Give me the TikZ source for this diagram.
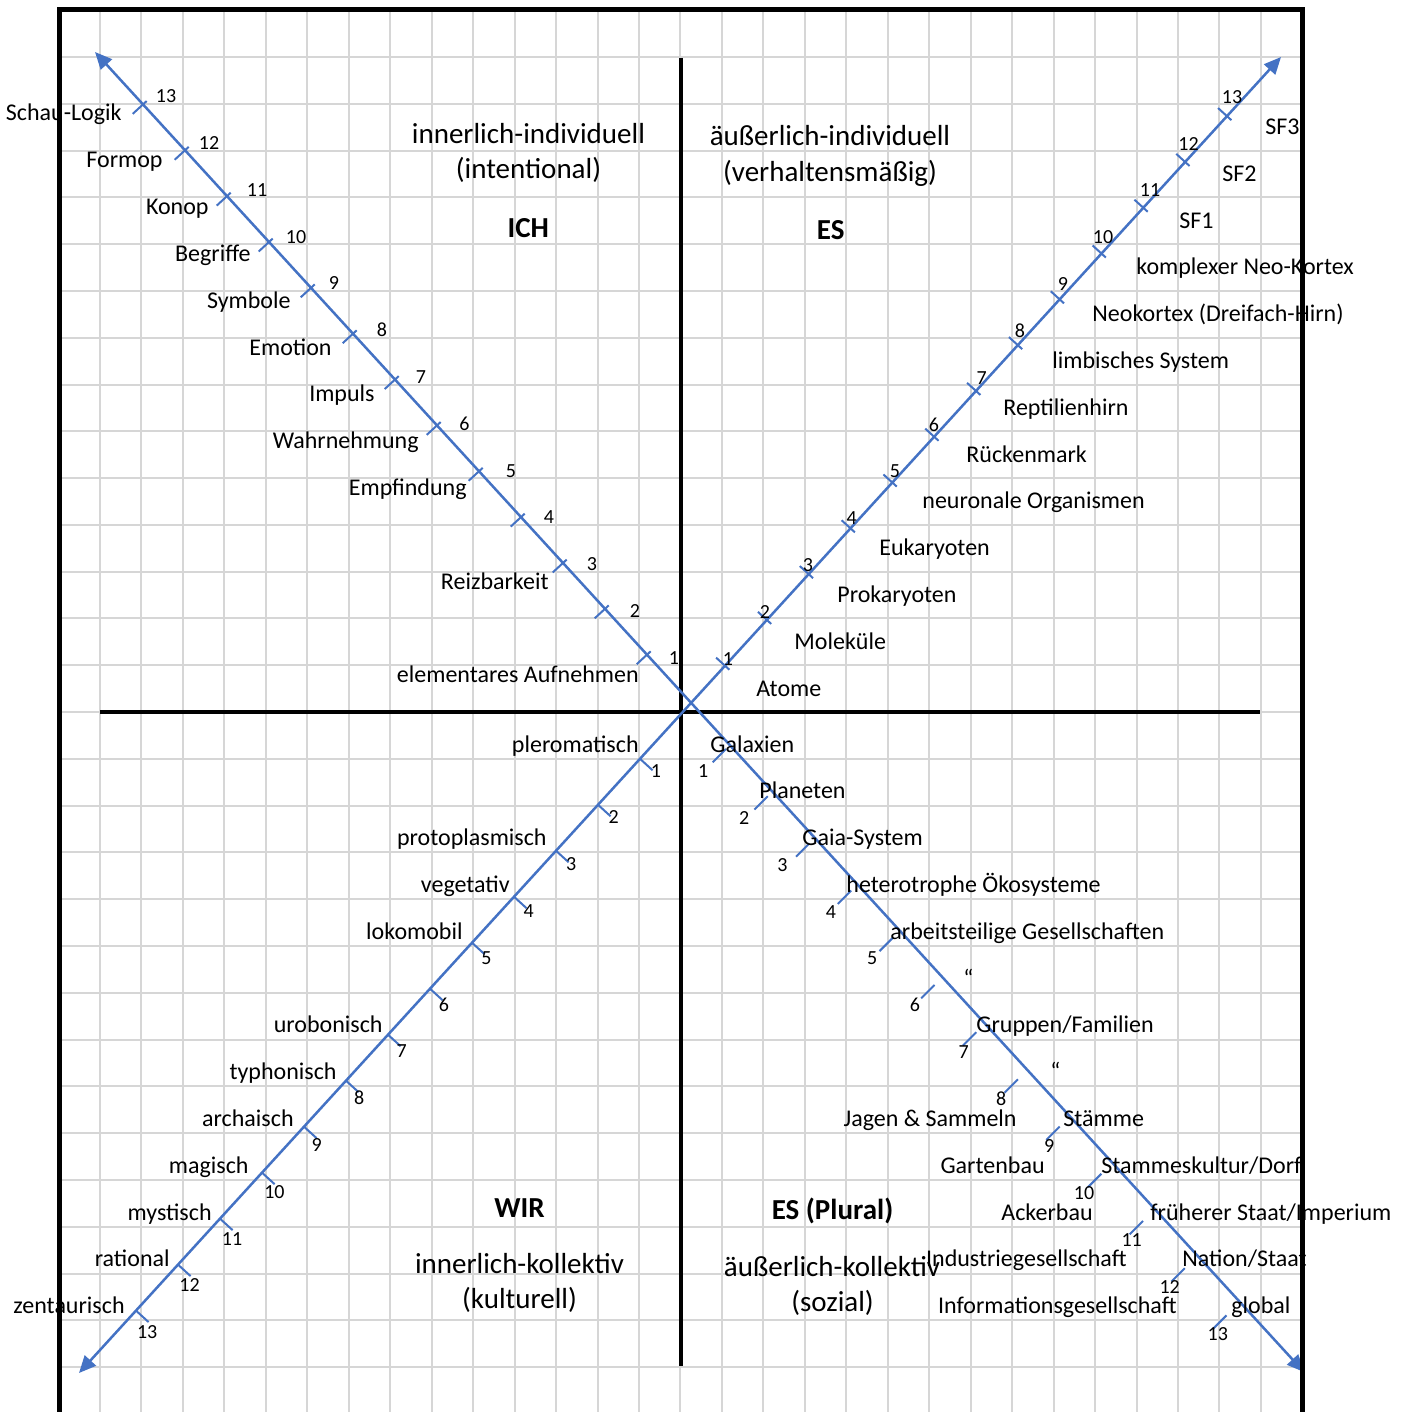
\documentclass[tikz,border=0pt]{standalone}
\usepackage{fontspec}
\setmainfont{Carlito}
\usetikzlibrary{arrows.meta}
\definecolor{gridgray}{RGB}{214,214,214}
\definecolor{scaleblue}{RGB}{68,114,196}
\begin{document}
\begin{tikzpicture}[x=0.5pt,y=-0.5pt,
  gridline/.style={draw=gridgray,line width=1pt},
  frameline/.style={draw=black,line width=2.5pt,line join=miter},
  quadline/.style={draw=black,line width=2.3pt},
  scaleaxis/.style={draw=scaleblue,line width=1.25pt,
    {Triangle[length=8.5pt,width=7.5pt]}-{Triangle[length=8.5pt,width=7.5pt]}},
  tickmark/.style={draw=scaleblue,line width=1pt},
  lbl/.style={inner sep=0pt,font=\fontsize{12pt}{14pt}\selectfont},
  num/.style={inner sep=0pt,font=\fontsize{10pt}{12pt}\selectfont},
  ttl/.style={inner sep=0pt,font=\fontsize{14.5pt}{17pt}\selectfont},
  ttlb/.style={inner sep=0pt,font=\fontsize{14.5pt}{17pt}\selectfont\bfseries},
]
\useasboundingbox (0,0) rectangle (1410,1412);
\fill[white] (0,0) rectangle (1410,1412);

% squared paper
\foreach \i in {0,...,28}
  \draw[gridline] ({100+41.46*\i},10) -- ({100+41.46*\i},1412);
\foreach \j in {0,...,28}
  \draw[gridline] (60,{57+46.79*\j}) -- (1302,{57+46.79*\j});

% quadrant dividers
\coordinate (vtop) at (681,58);
\coordinate (vbot) at (681,1366);
\coordinate (hleft) at (100,712);
\coordinate (hright) at (1260,712);
\draw[quadline] (vtop) -- (vbot);
\draw[quadline] (hleft) -- (hright);

% the two diagonal scales
\coordinate (nwtip) at (95,52);
\coordinate (setip) at (1304,1372);
\coordinate (swtip) at (79,1373);
\coordinate (netip) at (1281,57);
\draw[scaleaxis] (nwtip) -- (setip);
\draw[scaleaxis] (swtip) -- (netip);

% tick marks, upper left (crossing the line)
\foreach \k in {1,...,13} {
  \pgfmathsetmacro\tx{647-42*(\k-1)}
  \pgfmathsetmacro\ty{52+1.0918*(\tx-95)}
  \draw[tickmark] ({\tx+3.7},{\ty-3.4}) -- ({\tx-10.3},{\ty+9.5});
}
% tick marks, upper right
\foreach \k in {1,...,13} {
  \pgfmathsetmacro\tx{725+41.83*(\k-1)}
  \pgfmathsetmacro\ty{1373-1.09484*(\tx-79)}
  \draw[tickmark] ({\tx+4.4},{\ty+4.0}) -- ({\tx-8.9},{\ty-8.1});
}
% tick marks, lower left (one-sided)
\foreach \k in {1,...,13} {
  \pgfmathsetmacro\tx{640-42*(\k-1)}
  \pgfmathsetmacro\ty{1373-1.09484*(\tx-79)}
  \draw[tickmark] (\tx,\ty) -- ({\tx+12.6},{\ty+11.5});
}
% tick marks, lower right (set off below the line)
\foreach \k in {1,...,13} {
  \pgfmathsetmacro\tx{726+41.7*(\k-1)}
  \pgfmathsetmacro\ty{749+47.2*(\k-1)}
  \draw[tickmark] (\tx,\ty) -- ({\tx-13.3},{\ty+13.3});
}

% step numbers
\foreach \k/\xx in {13/166,12/209,11/257,10/296,9/334,8/382,7/421,6/464.5,5/511,4/549,3/592,2/635,1/674}
  \node[num,anchor=base] (nwn\k) at (\xx,{102.7+46.8*(13-\k)}) {\k};
\foreach \k/\xx in {1/728,2/765,3/808,4/851.7,5/895,6/934,7/981.7,8/1020,9/1063,10/1103,11/1150,12/1188.5,13/1232}
  \node[num,anchor=base] (nen\k) at (\xx,{665-46.8*(\k-1)}) {\k};
\foreach \k in {1,...,13}
  \node[num,anchor=base] (swn\k) at ({656-42.4*(\k-1)},{777+46.8*(\k-1)}) {\k};
\foreach \k/\xx in {1/703.3,2/744.2,3/782.5,4/831,5/872.3,6/915,7/963.7,8/1001.3,9/1049.3,10/1084,11/1131.7,12/1169.7,13/1217.8}
  \node[num,anchor=base] (sen\k) at (\xx,{777.3+46.9*(\k-1)}) {\k};

% upper left: intentional stages
\foreach \k/\xx/\txt in {13/122/Schau-Logik,12/163/Formop,11/209/Konop,10/251/Begriffe,9/291/Symbole,8/332/Emotion,7/375/Impuls,6/419/Wahrnehmung,5/467/Empfindung,3/549/Reizbarkeit,1/639/elementares Aufnehmen}
  \node[lbl,anchor=base east] (nwl\k) at (\xx,{121+46.8*(13-\k)}) {\txt};

% upper right: behavioural stages
\foreach \k/\xx/\txt in {1/756/Atome,2/794/Moleküle,3/837/Prokaryoten,4/879/Eukaryoten,5/922/neuronale Organismen,6/966/Rückenmark,7/1003/Reptilienhirn,8/1052/limbisches System,9/1092/Neokortex (Dreifach-Hirn),10/1136/komplexer Neo-Kortex,11/1179/SF1,12/1222/SF2,13/1265/SF3}
  \node[lbl,anchor=base west] (nel\k) at (\xx,{696-46.8*(\k-1)}) {\txt};

% lower left: cultural stages
\foreach \k/\xx/\txt in {1/639/pleromatisch,3/547/protoplasmisch,4/510/vegetativ,5/463/lokomobil,7/383/urobonisch,8/337/typhonisch,9/294/archaisch,10/249/magisch,11/212/mystisch,12/170/rational,13/125/zentaurisch}
  \node[lbl,anchor=base east] (swl\k) at (\xx,{752+46.8*(\k-1)}) {\txt};

% lower right: social stages
\node[lbl,anchor=base west] (sel1) at (710,752) {Galaxien};
\node[lbl,anchor=base west] (sel2) at (759,798.8) {Planeten};
\node[lbl,anchor=base west] (sel3) at (802,845.6) {Gaia-System};
\node[lbl,anchor=base west] (sel4) at (846,892.4) {heterotrophe Ökosysteme};
\node[lbl,anchor=base west] (sel5) at (890,939.2) {arbeitsteilige Gesellschaften};
\node[lbl,anchor=base west] (sel6) at (963,986) {“};
\node[lbl,anchor=base west] (sel7) at (976,1032.8) {Gruppen/Familien};
\node[lbl,anchor=base west] (sel8) at (1050,1079.6) {“};
\node[lbl,anchor=base west] (sel9) at (1063,1126.4) {Stämme};
\node[lbl,anchor=base west] (sel10) at (1101,1173.2) {Stammeskultur/Dorf};
\node[lbl,anchor=base west] (sel11) at (1150,1220) {früherer Staat/Imperium};
\node[lbl,anchor=base west] (sel12) at (1182,1266.8) {Nation/Staat};
\node[lbl,anchor=base west] (sel13) at (1231,1313.6) {global};
\node[lbl,anchor=base east] (sea9) at (1017,1126.4) {Jagen \& Sammeln};
\node[lbl,anchor=base east] (sea10) at (1045,1173.2) {Gartenbau};
\node[lbl,anchor=base east] (sea11) at (1093,1220) {Ackerbau};
\node[lbl,anchor=base east] (sea12) at (1127,1266.8) {Industriegesellschaft};
\node[lbl,anchor=base east] (sea13) at (1177,1313.6) {Informationsgesellschaft};

% quadrant titles
\node[ttl,anchor=base] (ulA) at (528.5,143.3) {innerlich-individuell};
\node[ttl,anchor=base] (ulB) at (528.5,178.3) {(intentional)};
\node[ttlb,anchor=base] (ulC) at (528.3,237.3) {ICH};
\node[ttl,anchor=base] (urA) at (830,145.7) {äußerlich-individuell};
\node[ttl,anchor=base] (urB) at (830,181.7) {(verhaltensmäßig)};
\node[ttlb,anchor=base] (urC) at (830.7,239.3) {ES};
\node[ttlb,anchor=base] (llC) at (519.5,1217.3) {WIR};
\node[ttl,anchor=base] (llA) at (519.5,1273.3) {innerlich-kollektiv};
\node[ttl,anchor=base] (llB) at (519.5,1308) {(kulturell)};
\node[ttlb,anchor=base] (lrC) at (832.5,1219.3) {ES (Plural)};
\node[ttl,anchor=base] (lrA) at (832,1276) {äußerlich-kollektiv};
\node[ttl,anchor=base] (lrB) at (832.5,1311) {(sozial)};

% sheet frame, drawn over the long labels
\coordinate (fbl) at (59.7,1412);
\coordinate (ftl) at (59.7,9.2);
\coordinate (ftr) at (1302.5,9.2);
\coordinate (fbr) at (1302.5,1412);
\draw[frameline] (fbl) -- (ftl) -- (ftr) -- (fbr);
\end{tikzpicture}
\end{document}
